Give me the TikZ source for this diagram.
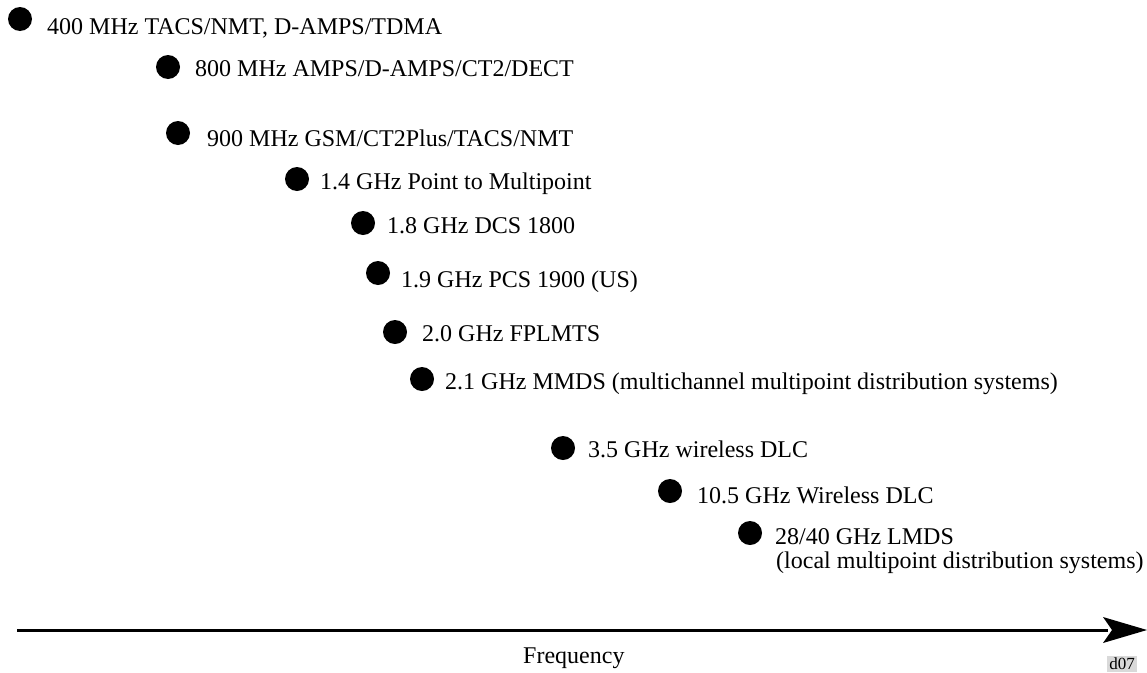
\documentclass[tikz,border=0pt]{standalone}
\usepackage{fontspec}
\setmainfont{Liberation Serif}
\begin{document}
\begin{tikzpicture}[x=1pt,y=-1pt,
  band/.style={circle,fill=black,inner sep=0pt,minimum size=24pt},
  lbl/.style={anchor=base west,inner sep=0pt,font=\fontsize{24}{24}\selectfont},
  axisline/.style={line width=3pt},
  tag/.style={fill=black!15,inner sep=2pt,font=\fontsize{17}{17}\selectfont}]
\useasboundingbox (0,0) rectangle (1147,672);

% frequency bands: dot plus caption
\node[band] (b1)  at (20,19) {};
\node[lbl]  (t1)  at (47,34)  {400 MHz TACS/NMT, D-AMPS/TDMA};
\node[band] (b2)  at (168,67) {};
\node[lbl]  (t2)  at (195,76) {800 MHz AMPS/D-AMPS/CT2/DECT};
\node[band] (b3)  at (178,133) {};
\node[lbl]  (t3)  at (207,146) {900 MHz GSM/CT2Plus/TACS/NMT};
\node[band] (b4)  at (297,179) {};
\node[lbl]  (t4)  at (320,189) {1.4 GHz Point to Multipoint};
\node[band] (b5)  at (363,223) {};
\node[lbl]  (t5)  at (387,233) {1.8 GHz DCS 1800};
\node[band] (b6)  at (378,273) {};
\node[lbl]  (t6)  at (401,287) {1.9 GHz PCS 1900 (US)};
\node[band] (b7)  at (395,332) {};
\node[lbl]  (t7)  at (422,341) {2.0 GHz FPLMTS};
\node[band] (b8)  at (422,379) {};
\node[lbl]  (t8)  at (445,389) {2.1 GHz MMDS (multichannel multipoint distribution systems)};
\node[band] (b9)  at (563,448) {};
\node[lbl]  (t9)  at (588,457) {3.5 GHz wireless DLC};
\node[band] (b10) at (670,491) {};
\node[lbl]  (t10) at (697,503) {10.5 GHz Wireless DLC};
\node[band] (b11) at (750,533) {};
\node[lbl]  (t11) at (775,544) {28/40 GHz LMDS};
\node[lbl]  (t11b) at (776,568) {(local multipoint distribution systems)};

% frequency axis
\coordinate (axstart) at (17,630);
\coordinate (axend)   at (1108,630);
\coordinate (tip)     at (1147,630);
\draw[axisline] (axstart) -- (axend);
\fill (tip) -- ++(-44,-13) -- ++(9,13) -- ++(-9,13) -- cycle;
\node[lbl] (freq) at (523,663) {Frequency};

\node[tag] (code) at (1122,664) {d07};
\end{tikzpicture}
\end{document}
